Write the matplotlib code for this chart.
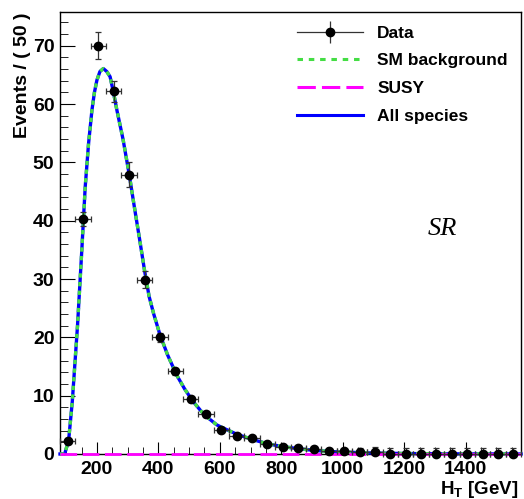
import numpy as np
import matplotlib
matplotlib.use('Agg')
import matplotlib.pyplot as plt
from matplotlib.lines import Line2D
from matplotlib.legend_handler import HandlerTuple
from matplotlib.ticker import MultipleLocator

plt.rcParams['font.family'] = ['Liberation Sans', 'DejaVu Sans']
plt.rcParams['font.weight'] = 'bold'
plt.rcParams['axes.labelweight'] = 'bold'
plt.rcParams['mathtext.fontset'] = 'custom'
plt.rcParams['mathtext.rm'] = 'Liberation Sans:bold'

# data histogram (bins of 50 GeV)
bin_centers = [105, 155, 205, 255, 305, 355, 405, 455, 505, 555,
               605, 655, 705, 755, 805, 855, 905, 955, 1005, 1055,
               1105, 1155, 1205, 1255, 1305, 1355, 1405, 1455, 1505, 1555]
data_vals = [2.3, 40.3, 70.0, 62.2, 47.9, 29.9, 20.0, 14.2, 9.4, 6.8,
             4.1, 3.1, 2.7, 1.7, 1.25, 1.1, 0.85, 0.6, 0.5, 0.3,
             0.4, 0, 0, 0, 0, 0, 0, 0, 0, 0]
err_lo = [0.4, 1.2, 2.3, 1.8, 2.1, 1.5, 0.8, 0.6, 0.4, 0.4,
          0.3, 0.3, 0.3, 0.3, 0.25, 0.25, 0.25, 0.2, 0.2, 0.2,
          0.2, 0, 0, 0, 0, 0, 0, 0, 0, 0]
err_hi = [0.4, 1.2, 2.3, 1.8, 2.1, 1.5, 0.8, 0.6, 0.4, 0.4,
          0.3, 0.3, 0.3, 0.3, 0.25, 0.25, 0.25, 0.2, 0.2, 0.8,
          0.8, 1.1, 1.1, 1.1, 1.1, 1.1, 1.1, 1.1, 1.1, 1.1]
bin_half = 25

# fitted model curve (SM background == all species, SUSY == 0)
curve_x = [80, 95, 108, 120, 137, 151, 162, 173, 184, 192, 200, 210, 221, 232,
           243, 254, 265, 285, 305, 320, 340, 355, 370, 385, 405, 430, 460,
           485, 513, 540, 557, 590, 605, 655, 705, 752, 800, 850, 900, 950,
           1000, 1100, 1200, 1300, 1400, 1500, 1580]
curve_y = [0, 0, 2.3, 9, 22, 35, 45.8, 53.3, 59, 62, 64.1, 65.6, 66.1, 65.6,
           64.7, 62, 59, 54, 48, 43, 36.5, 31.5, 27, 24, 20.5, 17, 13.5,
           11.2, 9, 7.3, 6.4, 5.0, 4.6, 3.4, 2.5, 1.8, 1.3, 0.95, 0.65, 0.45,
           0.32, 0.17, 0.08, 0.04, 0.02, 0.01, 0]
susy_y = [0] * len(curve_x)

fig = plt.figure(figsize=(5.24, 4.99), dpi=100)
ax = fig.add_axes([60/524, 1 - 454/499, 461/524, 442/499])

ax.plot(curve_x, curve_y, color='#0000ff', lw=2.4, zorder=3, clip_on=False)
ax.plot(curve_x, curve_y, color='#44dd44', lw=2.4, ls=(0, (1.3, 1.3)), zorder=4, clip_on=False)
ax.plot(curve_x, susy_y, color='#ff00ff', lw=2, ls=(0, (6, 2)), zorder=5, clip_on=False)
ax.errorbar(bin_centers, data_vals, xerr=bin_half, yerr=[err_lo, err_hi],
            fmt='o', color='black', ms=6, ecolor='#333333', elinewidth=0.9,
            capsize=2.2, capthick=0.9, zorder=6, clip_on=False)

ax.set_xlim(80, 1580)
ax.set_ylim(0, 75.8)
ax.xaxis.set_major_locator(MultipleLocator(200))
ax.xaxis.set_minor_locator(MultipleLocator(50))
ax.yaxis.set_major_locator(MultipleLocator(10))
ax.yaxis.set_minor_locator(MultipleLocator(2))
ax.tick_params(which='both', direction='in', top=False, right=False, labelsize=14)
ax.tick_params(axis='y', which='major', length=10.5, pad=4)
ax.tick_params(axis='y', which='minor', length=5.8)
ax.tick_params(axis='x', which='major', length=9, pad=5)
ax.tick_params(axis='x', which='minor', length=5)
for s in ax.spines.values():
    s.set_linewidth(1)

ax.set_ylabel('Events / ( 50 )', fontsize=14, loc='top')
ax.yaxis.set_label_coords(-0.062, 1.0)
ax.set_xlabel(r'H$_{\rm T}$ [GeV]', fontsize=13.5, loc='right')
ax.xaxis.set_label_coords(0.995, -0.056)

ax.text(0.83, 0.51, 'SR', transform=ax.transAxes, fontsize=19,
        family='Liberation Serif', style='italic', weight='normal',
        ha='center', va='center')

h_data = (Line2D([], [], color='#333333', lw=0.9),
          Line2D([], [], color='#333333', marker='|', ms=16, mew=0.9, ls='none'),
          Line2D([], [], color='black', marker='o', ms=6, ls='none'))
h_sm = Line2D([], [], color='#44dd44', lw=2.2, ls=(0, (1.8, 1.9)))
h_susy = Line2D([], [], color='#ff00ff', lw=2.2, ls=(0, (6, 2)))
h_all = Line2D([], [], color='#0000ff', lw=2.2)
ax.legend([h_data, h_sm, h_susy, h_all], ['Data', 'SM background', 'SUSY', 'All species'],
          handler_map={tuple: HandlerTuple(ndivide=1)}, frameon=False,
          fontsize=12.5, handlelength=3.8, handletextpad=0.8, labelspacing=0.72,
          loc='upper left', bbox_to_anchor=(0.5, 0.985), borderaxespad=0)

fig.savefig('out.png', dpi=100)
